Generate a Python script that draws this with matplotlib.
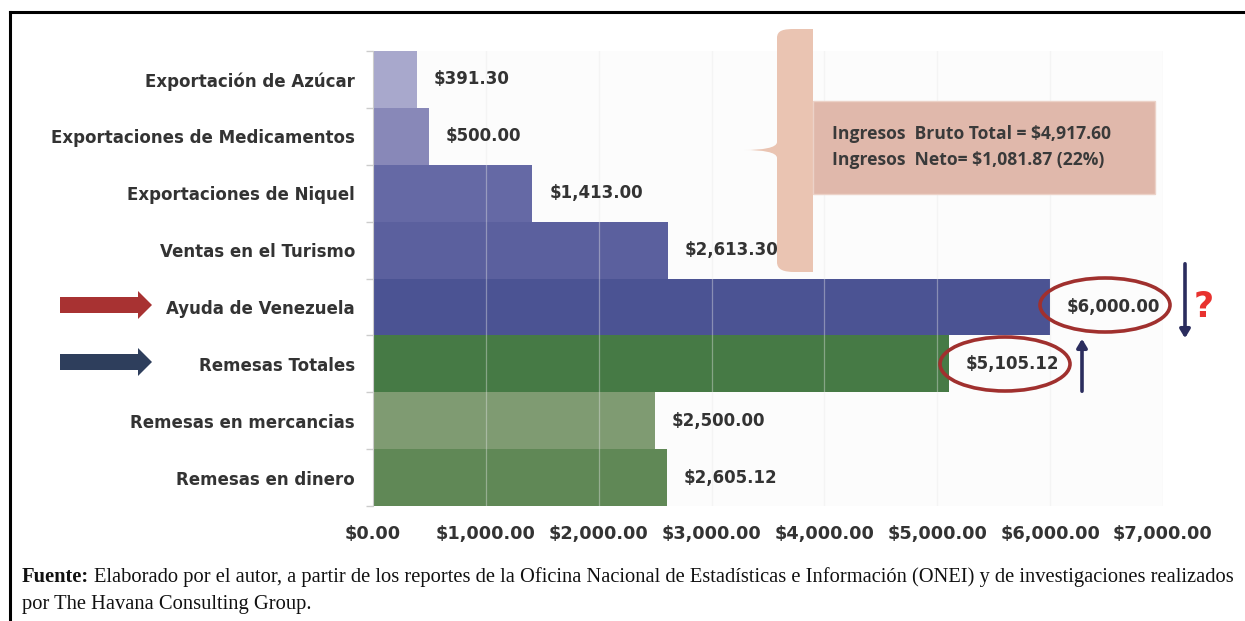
import matplotlib
matplotlib.use("Agg")
import matplotlib.pyplot as plt
from matplotlib import transforms
from matplotlib.patches import Ellipse, Polygon, Rectangle, FancyArrowPatch, PathPatch
from matplotlib.path import Path
from matplotlib.ticker import FixedLocator

plt.rcParams["font.family"] = ["DejaVu Sans"]

categories = ["Exportación de Azúcar", "Exportaciones de Medicamentos",
              "Exportaciones de Niquel", "Ventas en el Turismo",
              "Ayuda de Venezuela", "Remesas Totales",
              "Remesas en mercancias", "Remesas en dinero"]
values = [391.30, 500.00, 1413.00, 2613.30, 6000.00, 5105.12, 2500.00, 2605.12]
colors = ["#a8a8cc", "#8888b8", "#6569a5", "#5b609e", "#4b5393",
          "#467a45", "#7f9b72", "#608856"]
xticks = [0, 1000, 2000, 3000, 4000, 5000, 6000, 7000]
note_lines = ["Ingresos  Bruto Total = $4,917.60", "Ingresos  Neto= $1,081.87 (22%)"]
source_bold = "Fuente:"
source_rest = ("Elaborado por el autor, a partir de los reportes de la Oficina Nacional de "
               "Estadísticas e Información (ONEI) y de investigaciones realizados")
source_line2 = "por The Havana Consulting Group."

W, H = 1245, 621
fig = plt.figure(figsize=(W / 100, H / 100), dpi=100)
T = transforms.Affine2D().scale(1 / W, -1 / H).translate(0, 1) + fig.transFigure

ax = fig.add_axes([373 / W, 1 - 506 / H, 790 / W, 455 / H])
ax.set_facecolor("#fcfcfc")
ypos = list(range(len(categories)))
ax.barh(ypos, values, height=1.0, color=colors, zorder=2)
ax.set_xlim(0, 7000)
ax.set_ylim(len(categories) - 0.5, -0.5)
ax.set_xticks(xticks)
ax.set_xticklabels([f"${v:,.2f}" for v in xticks], fontsize=12.8, fontweight="bold", color="#333333")
ax.tick_params(axis="x", length=0, pad=14)
ax.set_yticks(ypos)
ax.set_yticklabels(categories, fontsize=12, fontweight="bold", color="#333333")
ax.tick_params(axis="y", which="major", length=0, pad=13)
ax.yaxis.set_minor_locator(FixedLocator([i - 0.5 for i in range(len(categories) + 1)]))
ax.tick_params(axis="y", which="minor", length=5, color="#cccccc", width=1)
for s in ["top", "right", "bottom"]:
    ax.spines[s].set_visible(False)
ax.spines["left"].set_color("#cccccc")
ax.spines["left"].set_zorder(4)
for v in xticks[1:]:
    ax.axvline(v, color="#e8e8e8", lw=0.9, alpha=0.4, zorder=3)

for y, v in zip(ypos, values):
    ax.annotate(f"${v:,.2f}", xy=(v, y), xytext=(12, 0), textcoords="offset points",
                va="center", ha="left", fontsize=12, fontweight="bold", color="#333333", zorder=5)

# brace callout
verts = [(795, 29), (813, 29), (813, 272), (795, 272),
         (784, 272), (777, 270), (777, 262),
         (777, 158),
         (777, 152), (762, 150), (744, 150),
         (762, 150), (777, 148), (777, 142),
         (777, 38),
         (777, 30), (784, 29), (795, 29)]
codes = [Path.MOVETO, Path.LINETO, Path.LINETO, Path.LINETO,
         Path.CURVE4, Path.CURVE4, Path.CURVE4,
         Path.LINETO,
         Path.CURVE4, Path.CURVE4, Path.CURVE4,
         Path.CURVE4, Path.CURVE4, Path.CURVE4,
         Path.LINETO,
         Path.CURVE4, Path.CURVE4, Path.CURVE4]
fig.patches.append(PathPatch(Path(verts, codes), transform=T, facecolor="#eac4b2",
                             edgecolor="none", zorder=6))
fig.patches.append(Rectangle((813, 101), 342, 93, transform=T, facecolor="#e0b8ab",
                             edgecolor="#ecd2c8", lw=1, zorder=6))
for yy, line in zip([134, 160], note_lines):
    fig.text(832 / W, 1 - yy / H, line, fontsize=12.6, fontweight="bold",
             family="Open Sans", color="#3a3a3a", va="center", ha="left", zorder=7)

# ellipses
for cx, cy in [(1105, 305), (1005, 364)]:
    fig.patches.append(Ellipse((cx, cy), 130, 54, transform=T, facecolor="none",
                               edgecolor="#a0302e", lw=2.6, zorder=8))

# vertical arrows
fig.patches.append(FancyArrowPatch((1185, 261), (1185, 341), transform=T,
                                   arrowstyle="-|>,head_length=0.5,head_width=0.3",
                                   mutation_scale=10, lw=2.6, color="#2b2d5e", zorder=8))
fig.patches.append(FancyArrowPatch((1082, 394), (1082, 336), transform=T,
                                   arrowstyle="-|>,head_length=0.5,head_width=0.3",
                                   mutation_scale=10, lw=2.6, color="#2b2d5e", zorder=8))
fig.text(1204 / W, 1 - 307 / H, "?", fontsize=25, fontweight="bold", color="#e8322f",
         ha="center", va="center")

# block arrows on the left
for y0, col in [(305, "#a83232"), (362, "#2e3e5c")]:
    poly = [(60, y0 - 8), (138, y0 - 8), (138, y0 - 14), (152, y0),
            (138, y0 + 14), (138, y0 + 8), (60, y0 + 8)]
    fig.patches.append(Polygon(poly, closed=True, transform=T, facecolor=col,
                               edgecolor="none", zorder=8))

# frame
fig.add_artist(plt.Line2D([10 / W, 10 / W], [0, 1 - 12 / H], color="black", lw=2.2,
                          transform=fig.transFigure))
fig.add_artist(plt.Line2D([10 / W, 1], [1 - 12 / H, 1 - 12 / H], color="black", lw=2.2,
                          transform=fig.transFigure))

# source
fs = 14
t1 = fig.text(22 / W, 1 - 577 / H, source_bold, fontsize=fs, fontweight="bold",
              family="Liberation Serif", color="#111111", va="center", ha="left")
r = fig.canvas.get_renderer()
bb = t1.get_window_extent(r)
x2 = bb.x1 + 5
t2 = fig.text(x2 / W, 1 - 577 / H, source_rest, fontsize=fs, family="Liberation Serif",
              color="#111111", va="center", ha="left")
w2 = t2.get_window_extent(r).width
target = 1237 - x2
if w2 > 0:
    fs2 = fs * target / w2
    t2.set_fontsize(fs2)
    t1.set_fontsize(fs2)
    bb = t1.get_window_extent(r)
    t2.set_x((bb.x1 + 5) / W)
else:
    fs2 = fs
fig.text(22 / W, 1 - 604 / H, source_line2, fontsize=fs2, family="Liberation Serif",
         color="#111111", va="center", ha="left")

fig.savefig("out.png", dpi=100)
